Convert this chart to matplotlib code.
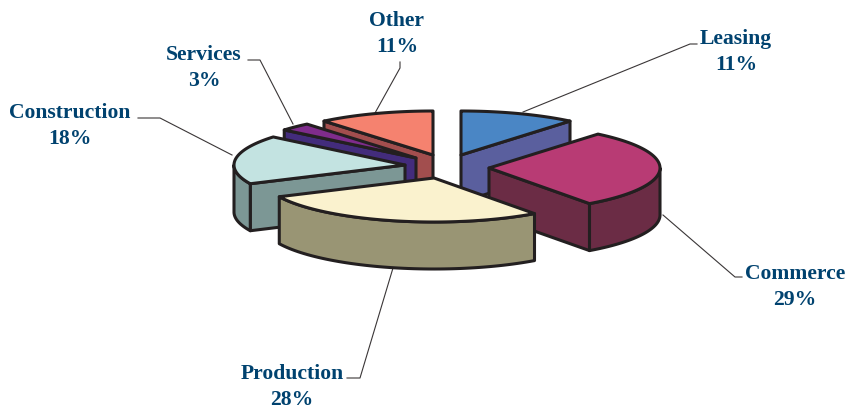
import numpy as np
import matplotlib
matplotlib.use("Agg")
import matplotlib.pyplot as plt
from matplotlib.patches import Polygon

categories = ["Leasing", "Commerce", "Production", "Construction", "Services", "Other"]
shares = [11, 29, 28, 18, 3, 11]
share_labels = ["11%", "29%", "28%", "18%", "3%", "11%"]
top_colors = ["#4A86C5", "#B83B74", "#FAF2CE", "#C3E3E1", "#7F2C8C", "#F5826F"]
side_colors = ["#5A5F9E", "#6B2C45", "#999574", "#7C9795", "#432C7C", "#A24E4E"]
apexes = [(461, 155), (489, 168), (434, 178), (405, 165), (416, 158), (433, 155)]
label_pos = [(736, 52), (795, 287), (292, 387), (70, 126), (204, 68), (397, 34)]
leaders = [
    [(523, 112), (690, 44), (697, 44)],
    [(663, 215), (735, 277), (742, 277)],
    [(393, 268), (360, 378), (347, 378)],
    [(232, 155), (160, 118), (138, 118)],
    [(293, 124), (260, 60), (248, 60)],
    [(375, 113), (400, 68), (400, 62)],
]
RX, RY, DEPTH = 171, 44, 47
EDGE = "#231F20"
TEXT = "#00426F"

fig = plt.figure(figsize=(8.5, 4.09), dpi=100)
ax = fig.add_axes([0, 0, 1, 1])
ax.set_xlim(0, 850)
ax.set_ylim(409, 0)
ax.axis("off")

def rim(apex, a):
    a = np.radians(a)
    return apex[0] + RX * np.sin(a), apex[1] - RY * np.cos(a)

def poly(pts, color, z):
    ax.add_patch(Polygon(pts, closed=True, facecolor=color, edgecolor=EDGE,
                         linewidth=2.2, joinstyle="round", zorder=z))

total = sum(shares)
edges = np.concatenate([[0], np.cumsum(shares)]) * 360.0 / total
order = [5, 0, 4, 3, 1, 2]

for z, i in enumerate(order):
    base = z * 10 + 1
    a0, a1 = edges[i], edges[i + 1]
    ap = apexes[i]
    down = lambda p: (p[0], p[1] + DEPTH)
    if a0 > 180:
        p = rim(ap, a0)
        poly([ap, p, down(p), down(ap)], side_colors[i], base)
    if a1 < 180:
        p = rim(ap, a1)
        poly([ap, p, down(p), down(ap)], side_colors[i], base)
    w0, w1 = max(a0, 90), min(a1, 270)
    if w1 > w0:
        arc = [rim(ap, a) for a in np.linspace(w0, w1, 60)]
        poly(arc + [down(p) for p in arc[::-1]], side_colors[i], base + 1)
    top = [ap] + [rim(ap, a) for a in np.linspace(a0, a1, 80)]
    poly(top, top_colors[i], base + 2)

for pts in leaders:
    xs, ys = zip(*pts)
    ax.plot(xs, ys, color="#3A3637", lw=0.8, zorder=0.5)

for name, pct, (x, y) in zip(categories, share_labels, label_pos):
    ax.text(x, y, f"{name}\n{pct}", ha="center", va="center", family="Liberation Serif",
            fontweight="bold", fontsize=15.6, color=TEXT, linespacing=1.38, zorder=100)

fig.savefig("out.png", dpi=100)
